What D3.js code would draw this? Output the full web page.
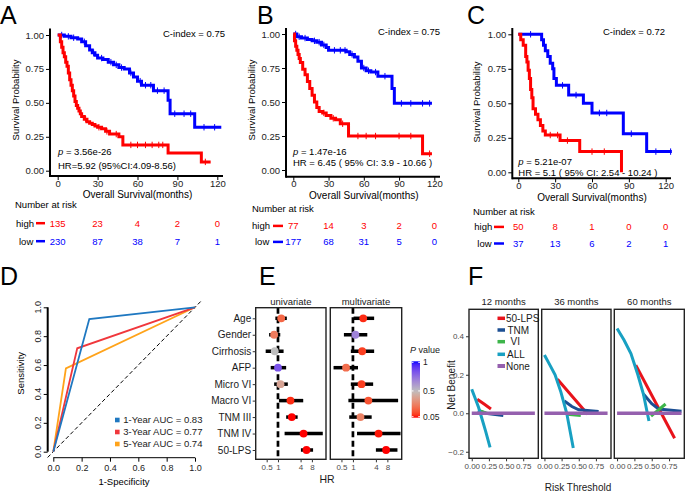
<!DOCTYPE html>
<html><head><meta charset="utf-8">
<script src="https://cdn.jsdelivr.net/npm/d3@7"></script>
<style>body{margin:0;background:#fff}svg{font-family:"Liberation Sans",Arial,Helvetica,sans-serif}</style>
</head><body><svg id="c" width="685" height="492"></svg>
<script>
// ---------------- DATA ----------------
const kmTicks=[0,30,60,90,120];
const survTicks=[0,0.25,0.5,0.75,1];
// Panel A
const aHighTime=[0,2,3,4,5,6,7,8,9,10,11,12,13,14,15,16,17,18,20,22,24,26,28,30,33,36,39,42,46,49,83,108,115];
const aHighSurv=[1,0.95,0.91,0.87,0.84,0.80,0.77,0.72,0.67,0.63,0.59,0.55,0.51,0.48,0.46,0.44,0.42,0.40,0.38,0.36,0.35,0.34,0.33,0.32,0.31,0.29,0.27,0.27,0.25,0.19,0.13,0.065,0.065];
const aHighCens=[21,31,37,44,55,60,66,71,76,79,111];
const aLowTime=[0,5,10,15,18,21,24,26,28,30,34,38,42,46,50,54,57,60,63,72,83,84.5,103,123];
const aLowSurv=[1,0.99,0.98,0.97,0.95,0.92,0.89,0.87,0.85,0.83,0.82,0.80,0.78,0.76,0.75,0.72,0.69,0.66,0.63,0.59,0.52,0.42,0.32,0.32];
const aLowCens=[3,8,12,20,27,33,40,44,48,55,62,66,70,75,80,88,95,100,110,118];
const aRiskHigh=[135,23,4,2,0];
const aRiskLow=[230,87,38,7,1];
// Panel B
const bHighTime=[0,1,2,3,4,5,6,8,10,12,14,16,18,20,22,25,28,32,36,40,47,110,118];
const bHighSurv=[1,0.95,0.91,0.88,0.85,0.82,0.79,0.74,0.70,0.65,0.60,0.55,0.50,0.46,0.43,0.42,0.40,0.38,0.37,0.34,0.25,0.12,0.12];
const bHighCens=[26,34,42,55,62,70,90,100,116];
const bLowTime=[0,3,7,12,16,20,24,28,30,45,48,52,55,58,62,66,72,84,86,118];
const bLowSurv=[1,0.98,0.97,0.96,0.95,0.94,0.92,0.90,0.88,0.87,0.85,0.83,0.80,0.75,0.73,0.72,0.69,0.60,0.49,0.49];
const bLowCens=[2,5,10,18,22,26,35,40,44,50,60,64,70,78,92,100,110,116];
const bRiskHigh=[77,14,3,2,0];
const bRiskLow=[177,68,31,5,0];
// Panel C
const cHighTime=[0,2,4,6,7,8,9,10,11,12,14,16,18,20,22,34,50,84];
const cHighSurv=[1,0.96,0.92,0.84,0.80,0.74,0.68,0.60,0.54,0.46,0.42,0.38,0.34,0.30,0.27,0.23,0.15,0.0];
const cHighCens=[26,32,40,60,70];
const cLowTime=[0,19,20.5,22,24,26,28,29,31,41,53,60,85.5,104.5,125];
const cLowSurv=[1,0.96,0.92,0.88,0.84,0.79,0.75,0.68,0.63,0.56,0.50,0.43,0.28,0.15,0.15];
const cLowCens=[10,36,47,66,72,92,112,124];
const cRiskHigh=[50,8,1,0,0];
const cRiskLow=[37,13,6,2,1];
// Panel D (ROC)
const rocTicks=[0,0.2,0.4,0.6,0.8,1.0];
const roc1Fpr=[0,0.254,1], roc1Tpr=[0,0.919,1];
const roc3Fpr=[0,0.169,1], roc3Tpr=[0,0.716,1];
const roc5Fpr=[0,0.089,1], roc5Tpr=[0,0.577,1];
const rocLabels=["1-Year AUC = 0.83","3-Year AUC = 0.77","5-Year AUC = 0.74"];
// Panel E (forest)
const eRows=["Age","Gender","Cirrhosis","AFP","Micro VI","Macro VI","TNM III","TNM IV","50-LPS"];
const uniHR=[1.22,0.79,0.82,1.0,1.17,2.15,2.33,4.8,5.74];
const uniLo=[0.85,0.58,0.47,0.64,0.79,1.06,1.65,1.5,4.08];
const uniHi=[1.72,1.15,1.41,1.65,1.83,4.7,3.34,15.6,8.6];
const uniP=[0.2,0.26,0.5,0.82,0.4,0.08,0.04,0.02,0.01];
const multiHR=[1.86,1.16,1.75,0.66,1.68,2.54,1.58,4.7,7.4];
const multiLo=[1.04,0.58,0.88,0.31,0.88,0.76,0.8,1.28,4.0];
const multiHi=[3.6,2.38,3.6,1.36,3.39,15.3,3.1,17.7,14.7];
const multiP=[0.08,0.68,0.11,0.22,0.11,0.15,0.28,0.06,0.01];
const hrTicks=[0.5,1,4,8];
const pTicks=[0.05,0.5,1];
// Panel F (decision curves)
const fMonths=["12 months","36 months","60 months"];
const fModels=["50-LPS","TNM","VI","ALL","None"];
const nbTicks=[-0.2,0,0.2,0.4];
const thrTicks=[0,0.25,0.5,0.75];
const nb12Lps=[[0.08,0.073],[0.18,0.048],[0.28,0.022]];
const nb12Tnm=[[0.09,0.015],[0.2,0.0],[0.46,-0.012]];
const nb12Vi=[[0.1,0.015],[0.24,-0.002]];
const nb12All=[[0,0.125],[0.05,0.078],[0.1,0.03],[0.15,-0.03],[0.2,-0.09],[0.267,-0.177]];
const nb12None=[[0,0],[0.92,0]];
const nb36Lps=[[0.19,0.177],[0.4,0.09],[0.63,-0.005]];
const nb36Tnm=[[0.29,0.064],[0.4,0.035],[0.5,0.018],[0.79,0.009]];
const nb36Vi=[[0.33,-0.005],[0.53,-0.012]];
const nb36All=[[0,0.303],[0.08,0.25],[0.155,0.2],[0.24,0.11],[0.325,0.0],[0.42,-0.18]];
const nb36None=[[0,0],[0.92,0]];
const nb60Lps=[[0.27,0.25],[0.55,0.06],[0.83,-0.13]];
const nb60Tnm=[[0.38,0.1],[0.5,0.05],[0.6,0.022],[0.93,0.01]];
const nb60Vi=[[0.49,-0.015],[0.7,0.048]];
const nb60All=[[0,0.44],[0.1,0.38],[0.2,0.31],[0.3,0.2],[0.38,0.1],[0.46,-0.04]];
const nb60None=[[0,0],[0.93,0]];

// ---------------- DRAW ----------------
const svg=d3.select("#c");
const RED="#ff0000", BLUE="#0000ff";
function txt(g,x,y,s,o={}){
  const t=g.append("text").attr("x",x).attr("y",y).text(s)
    .attr("font-size",o.fs||10).attr("fill",o.fill||"#000");
  if(o.anchor)t.attr("text-anchor",o.anchor);
  if(o.rot)t.attr("transform",`rotate(${o.rot},${x},${y})`);
  if(o.style)t.attr("font-style",o.style);
  return t;
}
// panel letters
[["A",0,24],["B",257,24],["C",467,24],["D",0,285],["E",259,285],["F",468,285]].forEach(d=>txt(svg,d[1],d[2],d[0],{fs:25}));

function kmPanel(c,hT,hS,hC,lT,lS,lC,rH,rL,cidx,pv,hr){
  const g=svg.append("g");
  const x=d3.scaleLinear().domain([0,120]).range([c.x0,c.x1]);
  const y=d3.scaleLinear().domain([0,1]).range([c.y0,c.y1]);
  const ln=d3.line().x(d=>x(d[0])).y(d=>y(d[1])).curve(d3.curveStepAfter);
  // axes
  const ya=g.append("g").attr("transform",`translate(${c.ax},0)`)
    .call(d3.axisLeft(y).tickValues(survTicks).tickFormat(d3.format(".2f")).tickSize(4).tickPadding(2));
  ya.select(".domain").remove();
  ya.attr("font-family",null).attr("font-size",9.5);
  ya.selectAll("text").attr("fill","#222");
  const xa=g.append("g").attr("transform",`translate(0,${c.axY})`)
    .call(d3.axisBottom(x).tickValues(kmTicks).tickSize(4).tickPadding(0));
  xa.select(".domain").remove();
  xa.attr("font-family",null).attr("font-size",9.5);
  xa.selectAll("text").attr("fill","#222");
  g.append("line").attr("x1",c.ax).attr("x2",c.ax).attr("y1",c.yTop).attr("y2",c.axY+1).attr("stroke","#000").attr("stroke-width",2);
  g.append("line").attr("x1",c.ax).attr("x2",c.xEnd).attr("y1",c.axY).attr("y2",c.axY).attr("stroke","#000").attr("stroke-width",2);
  // curves + censor marks
  const stepVal=(T,S,t)=>S[Math.max(0,d3.bisectRight(T,t)-1)];
  [[lT,lS,lC,BLUE],[hT,hS,hC,RED]].forEach(([T,S,C,col])=>{
    g.append("path").attr("d",ln(d3.zip(T,S))).attr("fill","none").attr("stroke",col).attr("stroke-width",3);
    C.forEach(t=>{
      const yy=y(stepVal(T,S,t));
      g.append("line").attr("x1",x(t)).attr("x2",x(t)).attr("y1",yy-3.2).attr("y2",yy+3.2).attr("stroke",col).attr("stroke-width",1);
    });
  });
  // texts
  txt(g,c.cX,c.cY,"C-index =  "+cidx,{fs:9.5});
  const pt=txt(g,c.pX,c.pY,"",{fs:9.5});
  pt.append("tspan").attr("font-style","italic").text("p");
  pt.append("tspan").text(" =  "+pv);
  txt(g,c.pX,c.hrY,hr,{fs:9.5});
  txt(g,c.ylX,c.ylY,"Survival Probability",{fs:9.5,anchor:"middle",rot:-90});
  txt(g,(c.x0+c.x1)/2,c.titleY,"Overall Survival(months)",{fs:10,anchor:"middle"});
  txt(g,c.narX,c.narY,"Number at risk",{fs:9.5});
  txt(g,c.hlX,c.highY,"high",{fs:9.5});
  txt(g,c.hlX+3,c.lowY,"low",{fs:9.5});
  g.append("line").attr("x1",c.dash[0]).attr("x2",c.dash[1]).attr("y1",c.highY-3.3).attr("y2",c.highY-3.3).attr("stroke",RED).attr("stroke-width",2.5);
  g.append("line").attr("x1",c.dash[0]).attr("x2",c.dash[1]).attr("y1",c.lowY-3.3).attr("y2",c.lowY-3.3).attr("stroke",BLUE).attr("stroke-width",2.5);
  kmTicks.forEach((t,i)=>{
    txt(g,x(t),c.highY,rH[i],{fs:9.5,anchor:"middle",fill:RED});
    txt(g,x(t),c.lowY,rL[i],{fs:9.5,anchor:"middle",fill:BLUE});
  });
}
kmPanel({x0:57.7,x1:217.3,y0:170.7,y1:35,ax:50,axY:176,xEnd:223,yTop:28.5,cX:163,cY:36.5,pX:58,pY:154.5,hrY:168.5,
  ylX:18.5,ylY:100,titleY:197.5,narX:15,narY:207.5,hlX:16,highY:226.5,lowY:244.5,dash:[36,45]},
  aHighTime,aHighSurv,aHighCens,aLowTime,aLowSurv,aLowCens,aRiskHigh,aRiskLow,"0.75","3.56e-26","HR=5.92 (95%CI:4.09-8.56)");
kmPanel({x0:293.3,x1:434.3,y0:170,y1:34,ax:286,axY:176.7,xEnd:440,yTop:28,cX:378,cY:35.2,pX:293,pY:154.5,hrY:166.2,
  ylX:255,ylY:100,titleY:199.2,narX:252,narY:211.8,hlX:252,highY:229.2,lowY:245.2,dash:[273,283]},
  bHighTime,bHighSurv,bHighCens,bLowTime,bLowSurv,bLowCens,bRiskHigh,bRiskLow,"0.75","1.47e-16","HR =  6.45 ( 95% CI: 3.9 - 10.66 )");
kmPanel({x0:518.3,x1:665.7,y0:172.3,y1:34.3,ax:512.3,axY:178.3,xEnd:671,yTop:28,cX:603,cY:35.2,pX:518.3,pY:164.5,hrY:176.2,
  ylX:480,ylY:102,titleY:200.8,narX:473,narY:215.2,hlX:474.3,highY:230.2,lowY:246.8,dash:[494,504]},
  cHighTime,cHighSurv,cHighCens,cLowTime,cLowSurv,cLowCens,cRiskHigh,cRiskLow,"0.72","5.21e-07","HR =  5.1 ( 95% CI: 2.54 - 10.24 )");

// ---------- Panel D ----------
(function(){
  const g=svg.append("g");
  const x=d3.scaleLinear().domain([0,1]).range([53.3,195]);
  const y=d3.scaleLinear().domain([0,1]).range([451.7,307.3]);
  const ya=g.append("g").attr("transform","translate(47.7,0)")
    .call(d3.axisLeft(y).tickValues(rocTicks).tickFormat(d3.format(".1f")).tickSize(4));
  ya.select(".domain").attr("d",`M0,${y(0)}V${y(1)}`).attr("stroke-width",2);
  ya.selectAll("text").remove();
  rocTicks.forEach(t=>txt(g,41.5,y(t),d3.format(".1f")(t),{fs:9,anchor:"middle",rot:-90,fill:"#222"}));
  const xa=g.append("g").attr("transform","translate(0,457.7)")
    .call(d3.axisBottom(x).tickValues(rocTicks).tickFormat(d3.format(".1f")).tickSize(4).tickPadding(3));
  xa.select(".domain").attr("d",`M${x(0)},0H${x(1)}`);
  xa.attr("font-family",null).attr("font-size",9);
  xa.selectAll("text").attr("fill","#222");
  txt(g,124,485,"1-Specificity",{fs:9.5,anchor:"middle"});
  txt(g,23.7,373.3,"Sensitivity",{fs:9.5,anchor:"middle",rot:-90});
  g.append("line").attr("x1",x(-0.04)).attr("y1",y(-0.04)).attr("x2",x(1.04)).attr("y2",y(1.04))
    .attr("stroke","#000").attr("stroke-width",1).attr("stroke-dasharray","4,2.5");
  const ln=d3.line().x(d=>x(d[0])).y(d=>y(d[1]));
  const cols=["#1f78c1","#f0373c","#ffa31a"];
  [[roc5Fpr,roc5Tpr,2],[roc3Fpr,roc3Tpr,1],[roc1Fpr,roc1Tpr,0]].forEach(r=>{
    g.append("path").attr("d",ln(d3.zip(r[0],r[1]))).attr("fill","none").attr("stroke",cols[r[2]]).attr("stroke-width",1.8);
  });
  rocLabels.forEach((l,i)=>{
    const cy=420+i*12;
    g.append("rect").attr("x",115).attr("y",cy-2.3).attr("width",4.6).attr("height",4.6).attr("fill",cols[i]);
    txt(g,123.3,cy+3.3,l,{fs:9.5,fill:"#222"});
  });
})();

// ---------- Panel E ----------
(function(){
  const g=svg.append("g");
  const pCol=d3.scaleLinear().domain([0.05,0.5,1]).range(["#ff0000","#bebebe","#0000ff"]).interpolate(d3.interpolateLab).clamp(true);
  const y=d3.scalePoint().domain(eRows).range([318.3,450]);
  const top=307.7,bot=459.3;
  const panels=[{x0:255.7,x1:326,name:"univariate",hr:uniHR,lo:uniLo,hi:uniHi,p:uniP},
                {x0:330.3,x1:401.7,name:"multivariate",hr:multiHR,lo:multiLo,hi:multiHi,p:multiP}];
  panels.forEach((P,k)=>{
    const x=d3.scaleLog().base(2).domain([0.255,19]).range([P.x0,P.x1]);
    const pg=g.append("g");
    pg.append("line").attr("x1",x(1)).attr("x2",x(1)).attr("y1",top).attr("y2",bot)
      .attr("stroke","#000").attr("stroke-width",2.7).attr("stroke-dasharray","6,3.5");
    eRows.forEach((r,i)=>{
      pg.append("line").attr("x1",x(P.lo[i])).attr("x2",x(P.hi[i])).attr("y1",y(r)).attr("y2",y(r))
        .attr("stroke","#000").attr("stroke-width",3.5);
    });
    eRows.forEach((r,i)=>{
      pg.append("circle").attr("cx",x(P.hr[i])).attr("cy",y(r)).attr("r",3.9).attr("fill",pCol(P.p[i]));
    });
    pg.append("rect").attr("x",P.x0).attr("y",top).attr("width",P.x1-P.x0).attr("height",bot-top)
      .attr("fill","none").attr("stroke","#222").attr("stroke-width",1.4);
    const xa=pg.append("g").attr("transform",`translate(0,${bot})`)
      .call(d3.axisBottom(x).tickValues(hrTicks).tickFormat(d=>d).tickSize(3).tickPadding(2));
    xa.select(".domain").remove();
    xa.attr("font-family",null).attr("font-size",8);
    xa.selectAll("text").attr("fill","#4d4d4d");
    xa.selectAll("line").attr("stroke","#333");
    txt(pg,(P.x0+P.x1)/2,305,P.name,{fs:9.5,anchor:"middle",fill:"#1a1a1a"});
    if(k===0){
      const ya=pg.append("g").attr("transform",`translate(${P.x0},0)`).call(d3.axisLeft(y).tickSize(3).tickPadding(1.5));
      ya.select(".domain").remove();
      ya.attr("font-family",null).attr("font-size",10);
      ya.selectAll("text").attr("fill","#1a1a1a");
      ya.selectAll("line").attr("stroke","#333");
    }
  });
  txt(g,327,482.5,"HR",{fs:10.5,anchor:"middle",fill:"#1a1a1a"});
  // legend
  const lt=txt(g,410,353,"",{fs:9,fill:"#1a1a1a"});
  lt.append("tspan").attr("font-style","italic").text("P");
  lt.append("tspan").text(" value");
  const ly=d3.scaleLinear().domain([0.05,1]).range([416.7,362.3]);
  const grad=svg.append("defs").append("linearGradient").attr("id","pg").attr("x1",0).attr("x2",0).attr("y1",1).attr("y2",0);
  d3.range(0,1.0001,0.05).forEach(f=>{
    grad.append("stop").attr("offset",f).attr("stop-color",pCol(0.05+f*0.95));
  });
  g.append("rect").attr("x",411.7).attr("y",ly(1)-1).attr("width",8.3).attr("height",ly(0.05)-ly(1)+2).attr("fill","url(#pg)");
  pTicks.forEach(t=>{
    g.append("line").attr("x1",411.7).attr("x2",413.5).attr("y1",ly(t)).attr("y2",ly(t)).attr("stroke","#fff");
    g.append("line").attr("x1",418.2).attr("x2",420).attr("y1",ly(t)).attr("y2",ly(t)).attr("stroke","#fff");
    txt(g,423,ly(t)+3,t,{fs:8.5,fill:"#1a1a1a"});
  });
})();

// ---------- Panel F ----------
(function(){
  const g=svg.append("g");
  const cols={"50-LPS":"#e8131b","TNM":"#1c4f93","VI":"#3db54a","ALL":"#18a0c2","None":"#9560ae"};
  const widths={"50-LPS":3,"TNM":3,"VI":3,"ALL":3,"None":3.5};
  const data=[[nb12Lps,nb12Tnm,nb12Vi,nb12All,nb12None],[nb36Lps,nb36Tnm,nb36Vi,nb36All,nb36None],[nb60Lps,nb60Tnm,nb60Vi,nb60All,nb60None]];
  const xs=[[469,538.3],[541.7,611],[614.3,684.3]];
  const top=309.3,bot=458.3;
  const y=d3.scaleLinear().domain([-0.234,0.54]).range([bot,top]);
  fMonths.forEach((m,k)=>{
    const x=d3.scaleLinear().domain([-0.04,0.97]).range(xs[k]);
    const pg=g.append("g");
    const ln=d3.line().x(d=>x(d[0])).y(d=>y(d[1]));
    fModels.forEach((mod,j)=>{
      pg.append("path").attr("d",ln(data[k][j])).attr("fill","none").attr("stroke",cols[mod]).attr("stroke-width",widths[mod]);
    });
    pg.append("rect").attr("x",xs[k][0]).attr("y",top).attr("width",xs[k][1]-xs[k][0]).attr("height",bot-top)
      .attr("fill","none").attr("stroke","#222").attr("stroke-width",1.4);
    const xa=pg.append("g").attr("transform",`translate(0,${bot})`)
      .call(d3.axisBottom(x).tickValues(thrTicks).tickFormat(d3.format(".2f")).tickSize(3).tickPadding(2));
    xa.select(".domain").remove();
    xa.attr("font-family",null).attr("font-size",8);
    xa.selectAll("text").attr("fill","#4d4d4d");
    xa.selectAll("line").attr("stroke","#333");
    txt(pg,(xs[k][0]+xs[k][1])/2,304.5,m,{fs:9.5,anchor:"middle",fill:"#1a1a1a"});
    if(k===0){
      const ya=pg.append("g").attr("transform",`translate(${xs[0][0]},0)`)
        .call(d3.axisLeft(y).tickValues(nbTicks).tickFormat(d3.format(".1f")).tickSize(3).tickPadding(2));
      ya.select(".domain").remove();
      ya.attr("font-family",null).attr("font-size",8);
      ya.selectAll("text").attr("fill","#4d4d4d");
      ya.selectAll("line").attr("stroke","#333");
    }
  });
  txt(g,578,490.5,"Risk Threshold",{fs:10,anchor:"middle",fill:"#1a1a1a"});
  txt(g,455,385,"Net Benefit",{fs:10,anchor:"middle",rot:-90,fill:"#1a1a1a"});
  // legend
  const lys=[318.3,330,341.7,354.3,366];
  const ldx=[0,1.5,4.5,1,0];
  fModels.forEach((mod,i)=>{
    g.append("line").attr("x1",497.5).attr("x2",505).attr("y1",lys[i]).attr("y2",lys[i])
      .attr("stroke",cols[mod]).attr("stroke-width",mod==="None"?4:3.5);
    txt(g,506+ldx[i],lys[i]+3.5,mod,{fs:10,fill:"#1a1a1a"});
  });
})();
</script></body></html>
